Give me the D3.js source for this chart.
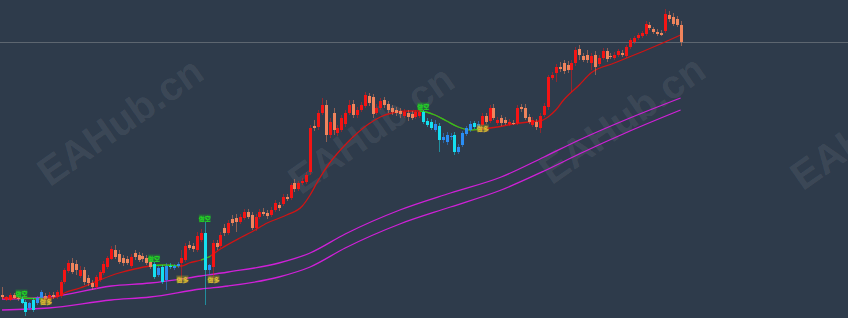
<!DOCTYPE html>
<html>
<head>
<meta charset="utf-8">
<script src="https://cdn.jsdelivr.net/npm/d3@7"></script>
<style>
html, body { margin: 0; padding: 0; background: #2e3b4b; overflow: hidden; }
</style>
</head>
<body>
<svg id="chart"></svg>
<script>
// candles, oldest first
const opens = [1705,1700,1700,1705,1702,1701,1698,1692,1700,1697,
  1702,1704,1700,1705,1703,1704,1718,1729,1737,1736,
  1724,1730,1722,1717,1713,1720,1727,1733,1741,1750,
  1746,1742,1741,1734,1747,1745,1744,1742,1738,1736,
  1725,1733,1720,1734,1732,1734,1737,1740,1755,1754,
  1750,1760,1767,1730,1733,1757,1754,1772,1767,1781,
  1782,1778,1782,1788,1785,1772,1783,1788,1787,1785,
  1790,1795,1796,1803,1802,1817,1811,1817,1818,1828,
  1874,1873,1887,1895,1865,1887,1867,1870,1876,1887,
  1896,1885,1890,1894,1904,1903,1887,1892,1900,1896,
  1892,1890,1889,1884,1887,1886,1883,1884,1888,1879,
  1878,1870,1874,1860,1858,1863,1865,1848,1855,1866,
  1870,1877,1872,1875,1884,1879,1892,1877,1882,1880,
  1876,1877,1877,1893,1892,1883,1875,1878,1872,1885,
  1893,1922,1927,1933,1937,1935,1930,1937,1951,1944,
  1945,1937,1945,1936,1942,1949,1944,1942,1945,1947,
  1944,1953,1958,1962,1964,1966,1975,1971,1968,1967,
  1969,1985,1983,1981,1975]
const highs = [1713,1704,1707,1707,1704,1703,1700,1698,1702,1704,
  1710,1707,1708,1708,1710,1720,1732,1740,1742,1740,
  1734,1733,1725,1720,1725,1730,1739,1744,1754,1755,
  1750,1745,1744,1746,1750,1748,1747,1745,1741,1738,
  1734,1735,1737,1737,1736,1738,1750,1757,1759,1757,
  1768,1771,1778,1736,1760,1760,1768,1776,1780,1785,
  1786,1786,1791,1791,1788,1786,1791,1792,1790,1793,
  1800,1798,1806,1806,1817,1821,1819,1822,1828,1875,
  1880,1890,1902,1900,1882,1892,1875,1885,1890,1900,
  1900,1893,1898,1908,1907,1906,1896,1902,1903,1899,
  1895,1893,1892,1891,1890,1889,1890,1890,1890,1882,
  1881,1880,1877,1867,1868,1867,1868,1856,1869,1874,
  1879,1879,1879,1887,1887,1895,1896,1883,1885,1883,
  1881,1880,1895,1896,1896,1886,1883,1881,1887,1897,
  1925,1928,1936,1938,1940,1939,1940,1953,1955,1947,
  1950,1947,1949,1945,1952,1952,1947,1948,1951,1950,
  1955,1962,1964,1967,1969,1979,1978,1973,1971,1970,
  1991,1989,1987,1984,1979]
const lows = [1701,1699,1699,1701,1699,1696,1684,1690,1688,1695,
  1700,1700,1699,1701,1701,1702,1716,1727,1726,1725,
  1722,1715,1714,1710,1711,1718,1725,1731,1740,1741,
  1736,1734,1735,1732,1740,1738,1738,1735,1731,1721,
  1723,1716,1710,1731,1730,1732,1722,1738,1750,1748,
  1748,1758,1695,1725,1722,1750,1752,1764,1765,1774,
  1768,1776,1780,1781,1770,1769,1781,1784,1781,1783,
  1788,1789,1794,1799,1800,1808,1809,1815,1816,1825,
  1869,1870,1885,1858,1862,1865,1864,1868,1873,1885,
  1882,1882,1888,1892,1894,1882,1885,1890,1892,1887,
  1885,1884,1882,1882,1879,1880,1881,1882,1876,1873,
  1870,1868,1848,1857,1855,1860,1845,1846,1853,1864,
  1868,1871,1870,1873,1876,1877,1880,1875,1874,1875,
  1874,1875,1875,1888,1880,1876,1873,1870,1867,1883,
  1890,1920,1918,1928,1926,1927,1908,1934,1940,1938,
  1937,1930,1925,1934,1940,1938,1941,1940,1943,1943,
  1942,1951,1956,1960,1962,1964,1970,1966,1964,1964,
  1967,1978,1974,1973,1954]
const closes = [1703,1703,1705,1702,1701,1697,1688,1697,1690,1702,
  1708,1701,1705,1703,1708,1718,1730,1737,1728,1730,
  1730,1718,1717,1713,1723,1728,1736,1742,1751,1743,
  1738,1737,1737,1743,1743,1740,1741,1737,1733,1723,
  1732,1718,1734,1733,1734,1736,1742,1754,1752,1751,
  1764,1767,1730,1735,1757,1753,1765,1767,1777,1777,
  1778,1783,1788,1783,1772,1783,1788,1786,1784,1790,
  1797,1792,1803,1801,1815,1811,1817,1819,1825,1872,
  1872,1887,1895,1865,1878,1870,1872,1882,1887,1895,
  1885,1890,1895,1905,1897,1886,1892,1899,1895,1890,
  1888,1887,1886,1888,1883,1882,1888,1888,1878,1875,
  1872,1876,1860,1863,1865,1864,1848,1853,1867,1872,
  1876,1873,1876,1884,1878,1892,1882,1880,1877,1877,
  1878,1876,1892,1891,1882,1878,1880,1873,1884,1894,
  1923,1925,1933,1931,1929,1930,1937,1950,1945,1940,
  1940,1944,1933,1942,1949,1941,1943,1945,1949,1945,
  1953,1960,1962,1965,1967,1976,1972,1968,1966,1965,
  1986,1981,1976,1975,1958]

// signal bars
const shortSignals = [5, 39, 52, 108]
const longSignals = [11, 46, 54, 123]

// trend average, read at some bars
const maIdx = [0,5,11,14,16,20,25,30,34,38,42,46,48,51,53,56,61,64,68,73,77,79,81,84,87,
  90,94,97,100,104,107,111,114,117,120,123,127,131,135,138,140,142,144,148,151,157,164,170,174]
const maVal = [1702,1702,1701,1703,1707,1712,1720,1727,1731,1734,1735,1734,1737,1740,1743,1751,1762,1768,1777,1785,1794,1805,1819,1837,1851,
  1863,1876,1883,1887,1889,1889,1885,1879,1873,1870,1871,1873,1876,1878,1879,1883,1890,1900,1915,1927,1937,1948,1958,1965]

// channel lines
const bandIdx = [0,12,28,38,51,58,71,79,88,102,115,128,139,148,161,174]
const upperBand = [1701,1703,1714,1717,1724,1728,1737,1747,1766,1790,1807,1823,1843,1860,1882,1902]
const lowerBand = [1690,1692,1700,1703,1711,1714,1723,1733,1752,1776,1793,1810,1829,1846,1869,1890]

const width = 848
const height = 318
const bg = '#2e3b4b'

const svg = d3.select('#chart')
  .attr('width', width)
  .attr('height', height)

svg.append('rect')
  .attr('width', width)
  .attr('height', height)
  .attr('fill', bg)

const x = d3.scaleLinear().domain([0, closes.length - 1]).range([2, 680.6])
const y = d3.scaleLinear().domain([1682, 2000]).range([318, 0])

// watermark
const marks = [[122, 124], [373, 132], [624, 122], [875, 128]]
svg.selectAll('.wm')
  .data(marks)
  .enter()
  .append('text')
  .attr('class', 'wm')
  .attr('transform', d => `translate(${d[0]},${d[1]}) rotate(-35)`)
  .attr('text-anchor', 'middle')
  .attr('dominant-baseline', 'middle')
  .attr('font-family', 'Liberation Sans, Arial, sans-serif')
  .attr('font-weight', 'bold')
  .attr('font-size', 40)
  .attr('fill', '#ffffff')
  .attr('fill-opacity', 0.08)
  .text('EAHub.cn')

// current price line
svg.append('line')
  .attr('x1', 0)
  .attr('x2', width)
  .attr('y1', Math.round(y(closes[closes.length - 1])) + 0.5)
  .attr('y2', Math.round(y(closes[closes.length - 1])) + 0.5)
  .attr('stroke', '#5d6670')
  .attr('stroke-width', 1)

// magenta channel
const bandLine = d3.line().x((d, i) => x(bandIdx[i])).y(d => y(d)).curve(d3.curveMonotoneX)
;[upperBand, lowerBand].forEach(b => {
  svg.append('path')
    .attr('d', bandLine(b))
    .attr('fill', 'none')
    .attr('stroke', '#d020d8')
    .attr('stroke-width', 1.3)
})

// trend state per bar
const isShort = closes.map((c, i) => {
  let s = -1, l = -1
  shortSignals.forEach(v => { if (v <= i) s = Math.max(s, v) })
  longSignals.forEach(v => { if (v <= i) l = Math.max(l, v) })
  return s > l
})

// moving average, red with green parts while short
const maLine = d3.line().x((d, i) => x(maIdx[i])).y(d => y(d)).curve(d3.curveMonotoneX)
svg.append('path')
  .attr('d', maLine(maVal))
  .attr('fill', 'none')
  .attr('stroke', '#d01414')
  .attr('stroke-width', 1.3)

const defs = svg.append('defs')
shortSignals.forEach((s, k) => {
  defs.append('clipPath')
    .attr('id', 'clip' + k)
    .append('rect')
    .attr('x', x(s - 1))
    .attr('width', x(longSignals[k] - 0.5) - x(s - 1))
    .attr('y', 0)
    .attr('height', height)
  svg.append('path')
    .attr('d', maLine(maVal))
    .attr('clip-path', `url(#clip${k})`)
    .attr('fill', 'none')
    .attr('stroke', '#20d020')
    .attr('stroke-width', 1.3)
})

function candleColor(i) {
  const up = closes[i] >= opens[i]
  if (isShort[i]) return up ? '#2a8ef5' : '#14e0f0'
  return up ? '#f41414' : '#f0845c'
}

const idx = d3.range(closes.length)

svg.selectAll('.wick')
  .data(idx)
  .enter()
  .append('line')
  .attr('class', 'wick')
  .attr('x1', i => Math.round(x(i)) + 0.5)
  .attr('x2', i => Math.round(x(i)) + 0.5)
  .attr('y1', i => y(highs[i]))
  .attr('y2', i => y(lows[i]))
  .attr('stroke', i => candleColor(i))
  .attr('stroke-opacity', 0.5)
  .attr('stroke-width', 1)

svg.selectAll('.body')
  .data(idx)
  .enter()
  .append('rect')
  .attr('class', 'body')
  .attr('x', i => Math.round(x(i)) - 1)
  .attr('width', 3)
  .attr('y', i => y(Math.max(opens[i], closes[i])))
  .attr('height', i => Math.max(1, Math.abs(y(opens[i]) - y(closes[i]))))
  .attr('fill', i => candleColor(i))
  .attr('shape-rendering', 'crispEdges')

// signal labels
const labelFont = 'Noto Sans CJK SC, sans-serif'
shortSignals.forEach(i => {
  const g = svg.append('g').attr('transform', `translate(${x(i)},${y(highs[i]) - 4})`)
  g.append('rect').attr('x', -6).attr('y', -3.5).attr('width', 12).attr('height', 7)
    .attr('fill', '#1e9a2a').attr('fill-opacity', 0.45)
  g.append('text')
    .attr('text-anchor', 'middle')
    .attr('dominant-baseline', 'central')
    .attr('font-family', labelFont)
    .attr('font-size', 6)
    .attr('font-weight', 'bold')
    .attr('fill', '#22d822')
    .text('做空')
})
longSignals.forEach(i => {
  const g = svg.append('g').attr('transform', `translate(${x(i) + 1},${y(lows[i]) + 1})`)
  g.append('rect').attr('x', -6).attr('y', -3.5).attr('width', 12).attr('height', 7)
    .attr('fill', '#9a8a28').attr('fill-opacity', 0.5)
  g.append('text')
    .attr('text-anchor', 'middle')
    .attr('dominant-baseline', 'central')
    .attr('font-family', labelFont)
    .attr('font-size', 6)
    .attr('font-weight', 'bold')
    .attr('fill', '#e0c030')
    .text('做多')
})
</script>
</body>
</html>
